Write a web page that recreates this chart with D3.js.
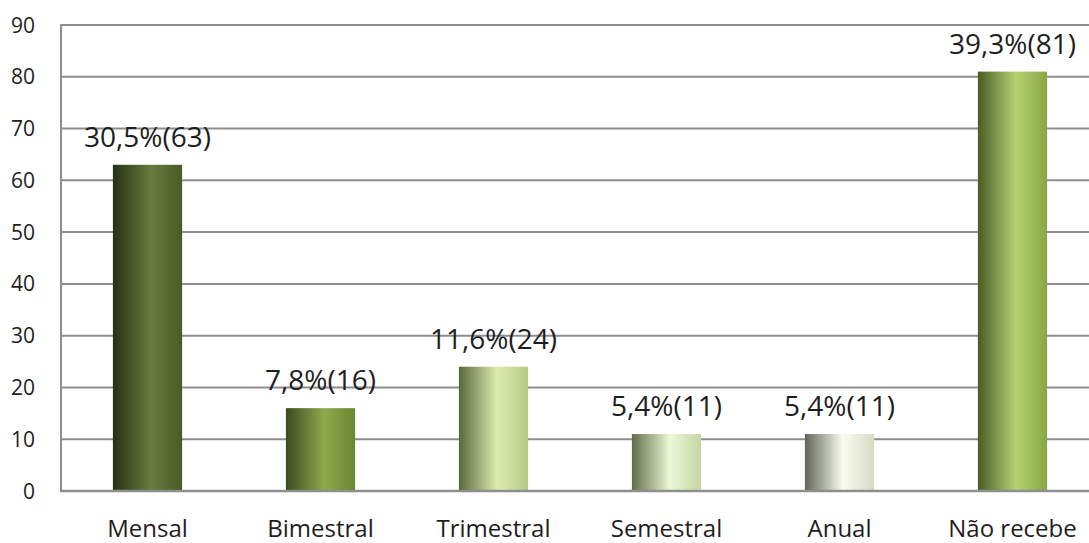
<!DOCTYPE html>
<html>
<head>
<meta charset="utf-8">
<script src="https://cdn.jsdelivr.net/npm/d3@7"></script>
<style>
  body { margin: 0; background: #fff; }
  svg { display: block; font-family: "Open Sans", sans-serif; }
</style>
</head>
<body>
<div id="canvas"></div>
<script>
var categories = ["Mensal", "Bimestral", "Trimestral", "Semestral", "Anual", "Não recebe"];
var counts = [63, 16, 24, 11, 11, 81];
var percents = ["30,5%", "7,8%", "11,6%", "5,4%", "5,4%", "39,3%"];
var yTicks = [0, 10, 20, 30, 40, 50, 60, 70, 80, 90];
// gradient stops per bar: left edge, light band, right edge
var barColors = [
    ["#263114", "#687c3e", "#4a5a26"],
    ["#3a4b1c", "#8fa94c", "#6c8632"],
    ["#59673a", "#dcecae", "#b6ca86"],
    ["#626c48", "#ecf8d6", "#c6d6a6"],
    ["#5f6558", "#fafdf0", "#d6dac6"],
    ["#4a5c24", "#b6d274", "#88a646"]
];

var w = 1089;
var h = 543;
var plotLeft = 61, plotTop = 25, plotBottom = 491;

var svg = d3.select("#canvas")
    .append("svg")
    .attr("width", w)
    .attr("height", h);

var x = d3.scaleBand()
    .domain(categories)
    .range([plotLeft, plotLeft + 6 * 173])
    .paddingInner(0.6)
    .paddingOuter(0.3);

var y = d3.scaleLinear()
    .domain([0, 90])
    .range([plotBottom, plotTop]);

var defs = svg.append("defs");
barColors.forEach(function (c, i) {
    var g = defs.append("linearGradient")
        .attr("id", "grad" + i)
        .attr("x1", "0%").attr("x2", "100%")
        .attr("y1", "0%").attr("y2", "0%");
    g.append("stop").attr("offset", "0%").attr("stop-color", c[0]);
    g.append("stop").attr("offset", "55%").attr("stop-color", c[1]);
    g.append("stop").attr("offset", "100%").attr("stop-color", c[2]);
});

// gridlines
svg.append("g")
    .selectAll("line")
    .data(yTicks)
    .join("line")
    .attr("x1", plotLeft)
    .attr("x2", w)
    .attr("y1", function (d) { return y(d); })
    .attr("y2", function (d) { return y(d); })
    .attr("stroke", "#8e8e8e")
    .attr("stroke-width", 2);

// left axis line
svg.append("line")
    .attr("x1", plotLeft).attr("x2", plotLeft)
    .attr("y1", plotTop - 1).attr("y2", plotBottom + 1)
    .attr("stroke", "#8e8e8e")
    .attr("stroke-width", 2);

// tick labels
svg.append("g")
    .selectAll("text")
    .data(yTicks)
    .join("text")
    .attr("x", 35)
    .attr("y", function (d) { return y(d); })
    .attr("dy", "0.36em")
    .attr("text-anchor", "end")
    .attr("font-size", 21)
    .attr("fill", "#1e1e1e")
    .text(function (d) { return d; });

// bars
svg.append("g")
    .selectAll("rect")
    .data(counts)
    .join("rect")
    .attr("x", function (d, i) { return x(categories[i]); })
    .attr("y", function (d) { return y(d); })
    .attr("width", x.bandwidth())
    .attr("height", function (d) { return y(0) - y(d); })
    .attr("fill", function (d, i) { return "url(#grad" + i + ")"; });

// bottom axis line over bars
svg.append("line")
    .attr("x1", plotLeft).attr("x2", w)
    .attr("y1", plotBottom).attr("y2", plotBottom)
    .attr("stroke", "#8e8e8e")
    .attr("stroke-width", 2.5);

// value labels
svg.append("g")
    .selectAll("text")
    .data(counts)
    .join("text")
    .attr("x", function (d, i) { return x(categories[i]) + x.bandwidth() / 2; })
    .attr("y", function (d) { return y(d) - 18; })
    .attr("text-anchor", "middle")
    .attr("font-size", 28)
    .attr("fill", "#1e1e1e")
    .text(function (d, i) { return percents[i] + "(" + d + ")"; });

// category labels
svg.append("g")
    .selectAll("text")
    .data(categories)
    .join("text")
    .attr("x", function (d) { return x(d) + x.bandwidth() / 2; })
    .attr("y", 537)
    .attr("text-anchor", "middle")
    .attr("font-size", 24)
    .attr("fill", "#1e1e1e")
    .text(function (d) { return d; });
</script>
</body>
</html>
